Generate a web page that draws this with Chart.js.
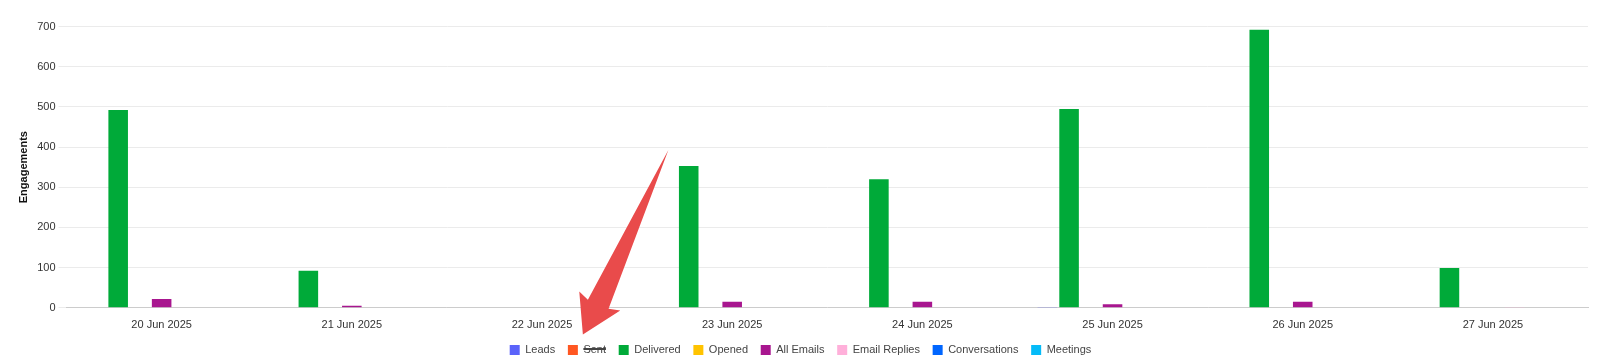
<!DOCTYPE html>
<html>
<head>
<meta charset="utf-8">
<script src="https://cdn.jsdelivr.net/npm/chart.js@4"></script>
<style>
  html, body { margin: 0; padding: 0; background: #fff; }
  #wrap { width: 1600px; height: 362px; }
</style>
</head>
<body>
<div id="wrap"><canvas id="engagementChart"></canvas></div>
<script>
// Dates on the x axis
const dayLabels = ['20 Jun 2025', '21 Jun 2025', '22 Jun 2025', '23 Jun 2025', '24 Jun 2025', '25 Jun 2025', '26 Jun 2025', '27 Jun 2025'];

// Series values
const leadsData = [0, 0, 0, 0, 0, 2, 0, 0];
const sentData = [495, 95, 0, 355, 322, 498, 695, 100]; // hidden in the legend
const deliveredData = [492, 92, 0, 353, 320, 495, 692, 99];
const openedData = [0, 0, 0, 0, 0, 0, 0, 0];
const allEmailsData = [22, 5, 0, 15, 15, 9, 15, 0];
const emailRepliesData = [0, 0, 0, 0, 0, 0, 0, 2];
const conversationsData = [0, 0, 0, 0, 0, 0, 0, 0];
const meetingsData = [0, 0, 0, 0, 0, 0, 0, 0];

const yTicks = [0, 100, 200, 300, 400, 500, 600, 700];

const FONT = 'Arial, "Liberation Sans", Helvetica, sans-serif';
const LEGEND_PAD = 12.7;

function series(label, data, color, hidden) {
    return { label: label, data: data, backgroundColor: color, borderWidth: 0, hidden: !!hidden };
}

// legend sits a bit higher than chart.js puts it
const legendNudge = {
    id: 'legendNudge',
    afterLayout(chart) {
        if (!chart.legend) return;
        chart.legend.top -= 3.2;
        chart.legend.bottom -= 3.2;
    }
};

// red arrow pointing at the "Sent" legend item (screenshot annotation)
const arrowPlugin = {
    id: 'arrowNote',
    afterDraw(chart) {
        const boxes = chart.legend && chart.legend.legendHitBoxes;
        if (!boxes || !boxes[1]) return;
        const tipX = boxes[1].left + 15;
        const tipY = boxes[1].top - 10;
        const pts = [[0, 0], [-3.6, -43], [5, -34.7], [85.5, -184.5], [25.7, -25.7], [37.4, -24]];
        const ctx = chart.ctx;
        ctx.save();
        ctx.fillStyle = '#e94b4b';
        ctx.beginPath();
        pts.forEach((p, i) => {
            if (i === 0) ctx.moveTo(tipX + p[0], tipY + p[1]);
            else ctx.lineTo(tipX + p[0], tipY + p[1]);
        });
        ctx.closePath();
        ctx.fill();
        ctx.restore();
    }
};

const ctx = document.getElementById('engagementChart').getContext('2d');
new Chart(ctx, {
    type: 'bar',
    data: {
        labels: dayLabels,
        datasets: [
            series('Leads', leadsData, '#5b63fa'),
            series('Sent', sentData, '#ff5722', true),
            series('Delivered', deliveredData, '#00aa39'),
            series('Opened', openedData, '#ffc300'),
            series('All Emails', allEmailsData, '#a8168f'),
            series('Email Replies', emailRepliesData, '#ffb0da'),
            series('Conversations', conversationsData, '#0066ff'),
            series('Meetings', meetingsData, '#05bbf8')
        ]
    },
    options: {
        responsive: true,
        maintainAspectRatio: false,
        animation: false,
        layout: { padding: { top: 26.5, right: 12, left: 13, bottom: -6.7 } },
        scales: {
            x: {
                grid: { display: false },
                border: { color: '#cccccc' },
                ticks: { color: '#333', font: { family: FONT, size: 11 } }
            },
            y: {
                beginAtZero: true,
                max: yTicks[yTicks.length - 1],
                afterBuildTicks: (axis) => { axis.ticks = yTicks.map(v => ({ value: v })); },
                grid: { color: '#ebebeb' },
                border: { display: false },
                ticks: { color: '#333', font: { family: FONT, size: 11 } },
                title: {
                    display: true,
                    text: 'Engagements',
                    color: '#111',
                    font: { family: FONT, size: 11, weight: 'bold' }
                }
            }
        },
        plugins: {
            legend: {
                position: 'bottom',
                labels: {
                    boxWidth: 10,
                    boxHeight: 10,
                    padding: LEGEND_PAD,
                    color: '#444',
                    font: { family: FONT, size: 11 }
                }
            },
            tooltip: { enabled: false }
        }
    },
    plugins: [legendNudge, arrowPlugin]
});
</script>
</body>
</html>
